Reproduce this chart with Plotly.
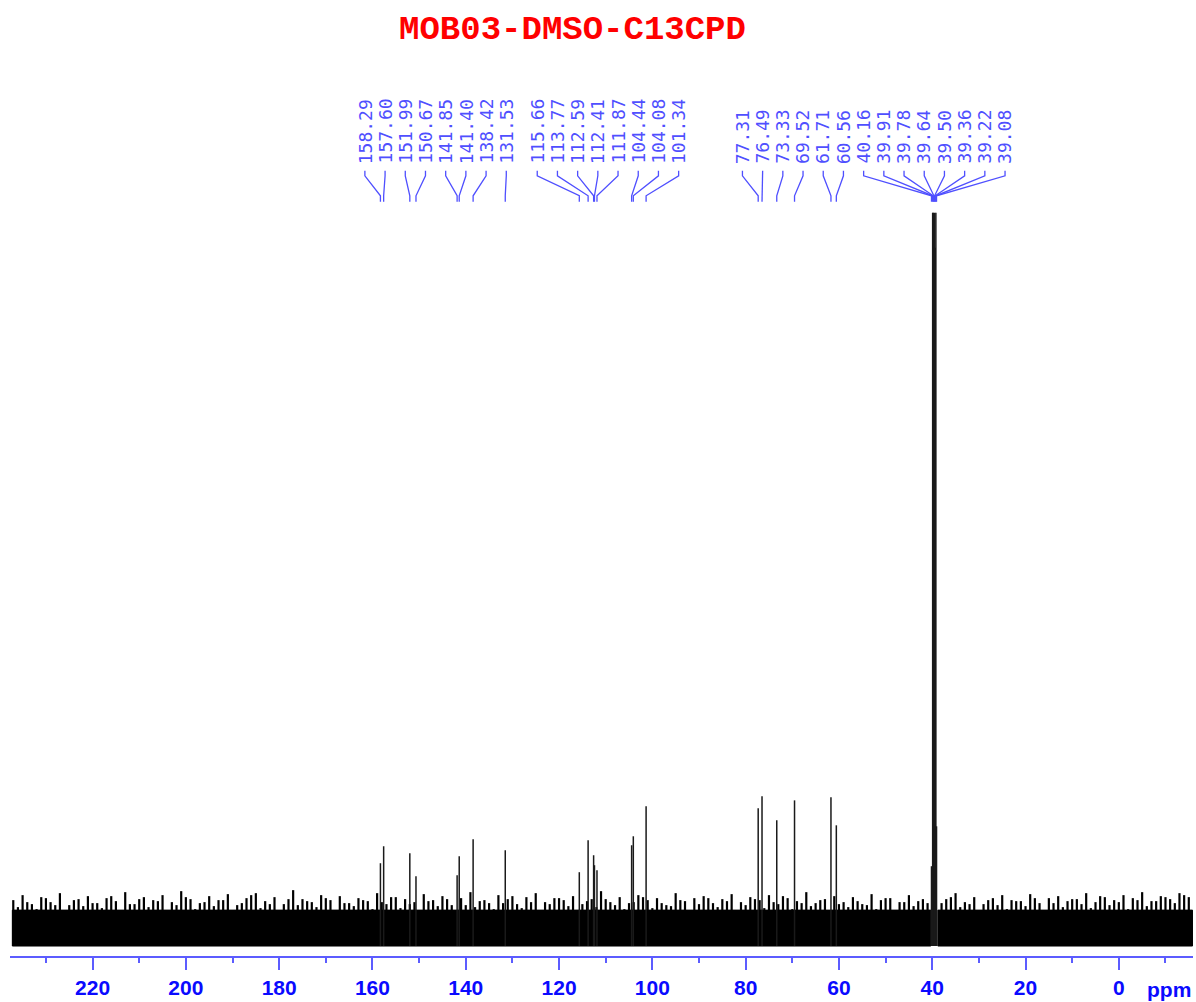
import plotly.graph_objects as go

# ---------------- data ----------------
title_text = "MOB03-DMSO-C13CPD"

peak_ppm = [158.29, 157.60, 151.99, 150.67, 141.85, 141.40, 138.42, 131.53,
            115.66, 113.77, 112.59, 112.41, 111.87, 104.44, 104.08, 101.34,
            77.31, 76.49, 73.33, 69.52, 61.71, 60.56,
            40.16, 39.91, 39.78, 39.64, 39.50, 39.36, 39.22, 39.08]
peak_height = [63, 80, 73, 50, 51, 70, 87, 76,
               54, 86, 71, 61, 56, 81, 90, 120,
               118, 130, 106, 126, 129, 101,
               60, 715, 715, 680, 715, 680, 715, 100]

# noise spikes (estimated heights of the ragged baseline top)
noise_ppm_even = list(range(237, -16, -2))
noise_top_even = [26, 31, 22, 29, 24, 33, 21, 27, 30, 23,
                  28, 25, 34, 22, 29, 26, 31, 24, 35, 27,
                  23, 30, 26, 32, 21, 28, 33, 25, 29, 22,
                  36, 27, 24, 31, 26, 30, 23, 28, 25, 33,
                  22, 29, 27, 24, 32, 26, 30, 21, 28, 34,
                  25, 23, 31, 27, 22, 29, 33, 24, 28, 26,
                  30, 22, 27, 35, 24, 29, 23, 31, 26, 28,
                  21, 33, 25, 28, 30, 23, 27, 32, 24, 29,
                  26, 31, 22, 28, 25, 34, 23, 27, 30, 24,
                  29, 22, 32, 26, 28, 24, 31, 25, 23, 30,
                  27, 33, 24, 29, 22, 28, 31, 26, 25, 32,
                  23, 28, 30, 25, 27, 33, 24, 29, 26, 31,
                  28, 34, 25, 30, 27, 33, 29]
noise_ppm_odd = list(range(236, -15, -2))
noise_top_odd = [19, 24, 17, 28, 21, 15, 26, 20, 23, 18,
                 30, 16, 22, 27, 19, 25, 14, 21, 29, 17,
                 24, 20, 26, 15, 23, 31, 18, 22, 16, 27,
                 21, 25, 19, 28, 14, 23, 20, 26, 17, 24,
                 29, 18, 22, 16, 25, 20, 27, 15, 21, 19,
                 26, 17, 23, 30, 18, 24, 16, 22, 28, 20,
                 15, 25, 19, 27, 21, 17, 24, 29, 18, 23,
                 20, 26, 16, 22, 28, 19, 25, 14, 21, 27,
                 18, 24, 30, 17, 23, 20, 26, 15, 22, 19,
                 25, 21, 17, 28, 16, 24, 20, 27, 18, 23,
                 29, 19, 22, 15, 26, 21, 17, 25, 20, 28,
                 16, 23, 19, 27, 22, 18, 30, 21, 24, 17,
                 26, 20, 25, 29, 23, 31]
noise_floor = -20
noise_band_top = 16
noise_segments = [(237.2, 40.3), (38.8, -15.8)]

tick_values = [220, 200, 180, 160, 140, 120, 100, 80, 60, 40, 20, 0]
tick_labels = [str(v) for v in tick_values]
x_range = [237.7, -15.9]

# ---------------- styles / layout constants ----------------
W, H = 1196, 1002
M_L, M_R, M_T, M_B = 10, 3, 100, 44
Y_RANGE = [-30, 828]
plot_w = W - M_L - M_R
ppm_per_px = (x_range[0] - x_range[1]) / plot_w
LABEL_SPACING = 20.2 * ppm_per_px

LABEL_BOTTOM = 763
LEAD_TOP = 757
LEAD_BEND1 = 752
LEAD_BEND2 = 732
LEAD_BOTTOM = 726

label_color = "#4f4fff"
axis_blue = "#5c5cff"
tick_blue = "#0a0aff"

# ---------------- label spreading ----------------
order = sorted(range(len(peak_ppm)), key=lambda i: -peak_ppm[i])
clusters = [[i] for i in order]


def positions(cl):
    c = sum(peak_ppm[i] for i in cl) / len(cl)
    n = len(cl)
    return [c - (k - (n - 1) / 2) * LABEL_SPACING for k in range(n)]


changed = True
while changed:
    changed = False
    for j in range(len(clusters) - 1):
        a = positions(clusters[j])
        b = positions(clusters[j + 1])
        if a[-1] - b[0] < LABEL_SPACING - 1e-9:
            clusters[j] = clusters[j] + clusters[j + 1]
            del clusters[j + 1]
            changed = True
            break

label_x = {}
for cl in clusters:
    for i, p in zip(cl, positions(cl)):
        label_x[i] = p

fig = go.Figure()

# noise band
for (a, b) in noise_segments:
    fig.add_trace(go.Scatter(
        x=[a, b, b, a, a], y=[noise_floor, noise_floor, noise_band_top, noise_band_top, noise_floor],
        fill="toself", fillcolor="black", mode="lines", line=dict(color="black", width=1),
        hoverinfo="skip", showlegend=False))

# noise spikes
sx, sy = [], []
for xs, ts in ((noise_ppm_even, noise_top_even), (noise_ppm_odd, noise_top_odd)):
    for p, t in zip(xs, ts):
        if any(b <= p <= a for a, b in noise_segments):
            sx += [p, p, None]
            sy += [noise_floor, t, None]
fig.add_trace(go.Scatter(x=sx, y=sy, mode="lines", line=dict(color="black", width=2.2),
                         hoverinfo="skip", showlegend=False))

# peaks
px_, py_ = [], []
for p, h in zip(peak_ppm, peak_height):
    px_ += [p, p, None]
    py_ += [noise_floor, h, None]
fig.add_trace(go.Scatter(x=px_, y=py_, mode="lines", line=dict(color="#1a1a1a", width=1.5),
                         showlegend=False))

# leaders
lx, ly = [], []
for i, p in enumerate(peak_ppm):
    L = label_x[i]
    lx += [L, L, p, p, None]
    ly += [LEAD_TOP, LEAD_BEND1, LEAD_BEND2, LEAD_BOTTOM, None]
fig.add_trace(go.Scatter(x=lx, y=ly, mode="lines", line=dict(color=label_color, width=1.3),
                         hoverinfo="skip", showlegend=False))

for i, p in enumerate(peak_ppm):
    fig.add_annotation(x=label_x[i], y=LABEL_BOTTOM, xref="x", yref="y",
                       text=f"{p:.2f}", textangle=-90, showarrow=False,
                       xanchor="center", yanchor="bottom", borderpad=0,
                       font=dict(family="DejaVu Sans Mono", size=18, color=label_color))

fig.add_annotation(x=-10.8, y=-0.039, xref="x", yref="paper", text="ppm", showarrow=False,
                   xanchor="center", yanchor="middle",
                   font=dict(family="Liberation Sans", size=21, color=tick_blue, weight="bold"))

fig.update_layout(
    width=W, height=H,
    margin=dict(l=M_L, r=M_R, t=M_T, b=M_B),
    paper_bgcolor="white", plot_bgcolor="white",
    title=dict(text=title_text, x=572.5 / W, y=1 - 27 / H, xref="container", yref="container",
               xanchor="center", yanchor="middle",
               font=dict(family="Liberation Mono", size=34, color="#ff0000", weight="bold")),
    xaxis=dict(range=x_range, showgrid=False, zeroline=False, showline=True,
               linecolor=axis_blue, linewidth=2, ticks="outside", ticklen=12, tickwidth=2,
               tickcolor=axis_blue, tickvals=tick_values, ticktext=tick_labels,
               tickfont=dict(family="Liberation Sans", size=21, color=tick_blue, weight="bold"),
               minor=dict(dtick=10, tick0=0, ticks="outside", ticklen=5, tickwidth=2,
                          tickcolor=axis_blue, showgrid=False)),
    yaxis=dict(range=Y_RANGE, visible=False, fixedrange=True),
    showlegend=False,
)

fig.write_html("out.html", config={"displayModeBar": False},
               post_script="document.body.style.margin='0';document.body.style.overflow='hidden';")
